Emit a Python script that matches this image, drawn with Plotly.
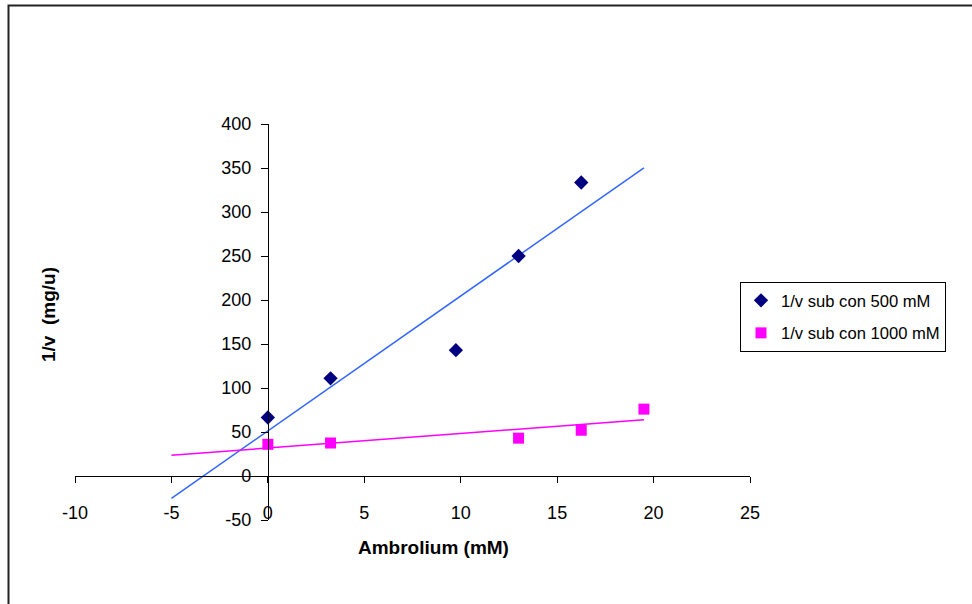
import numpy as np
import plotly.graph_objects as go

# ---- data ----
x_500 = [0, 3.25, 9.75, 13, 16.25]
y_500 = [66.5, 111, 143, 250, 333.5]
x_1000 = [0, 3.25, 13, 16.25, 19.5]
y_1000 = [36, 37.5, 43, 52, 76]
trend_x = [-5, 19.5]          # trendline extent (backward forecast to -5)
name_500 = "1/v sub con 500 mM"
name_1000 = "1/v sub con 1000 mM"
x_title = "Ambrolium (mM)"
y_title = "1/v\u00a0 (mg/u)"
x_range = [-10, 25]
y_range = [-50, 400]
x_ticks = [-10, -5, 0, 5, 10, 15, 20, 25]
x_ticktext = ["-10", "-5", "0", "5", "10", "15", "20", "25"]
y_ticks = [-50, 0, 50, 100, 150, 200, 250, 300, 350, 400]
y_ticktext = ["-50", "0", "50", "100", "150", "200", "250", "300", "350", "400"]

FONT = "Liberation Sans, Arial, sans-serif"
W, H = 972, 604
ML, MR, MT, MB = 75, 222, 124, 84
PW, PH = W - ML - MR, H - MT - MB

def px_x(p):
    return (p - ML) / PW

def px_y(p):
    return (H - MB - p) / PH

fig = go.Figure()

# trendlines (least squares fit of each series)
for xs, ys, col in [(x_500, y_500, "#3366FF"), (x_1000, y_1000, "#FF00FF")]:
    m, b = np.polyfit(xs, ys, 1)
    tx = np.array(trend_x, dtype=float)
    fig.add_trace(go.Scatter(x=tx, y=m * tx + b, mode="lines",
                             line=dict(color=col, width=1.5),
                             showlegend=False, hoverinfo="skip"))

fig.add_trace(go.Scatter(x=x_500, y=y_500, mode="markers", name=name_500,
                         legendgroup="a",
                         marker=dict(symbol="diamond", size=11, color="#000080")))
fig.add_trace(go.Scatter(x=x_1000, y=y_1000, mode="markers", name=name_1000,
                         legendgroup="b",
                         marker=dict(symbol="square", size=11, color="#FF00FF")))

x_pos = (0 - y_range[0]) / (y_range[1] - y_range[0])
y_pos = (0 - x_range[0]) / (x_range[1] - x_range[0])

fig.update_layout(
    width=W, height=H,
    margin=dict(l=ML, r=MR, t=MT, b=MB, autoexpand=False),
    paper_bgcolor="white", plot_bgcolor="white",
    font=dict(family=FONT, color="black", size=18),
    xaxis=dict(range=x_range, tickvals=x_ticks, ticktext=x_ticktext,
               showgrid=False, zeroline=False,
               showline=True, linecolor="black", linewidth=1,
               ticks="outside", ticklen=6, tickcolor="black",
               anchor="free", position=x_pos, ticklabelstandoff=14,
               tickfont=dict(size=18, family=FONT)),
    yaxis=dict(range=y_range, tickvals=y_ticks, ticktext=y_ticktext,
               showgrid=False, zeroline=False,
               showline=True, linecolor="black", linewidth=1,
               ticks="outside", ticklen=7, tickcolor="black",
               anchor="free", position=y_pos, ticklabelstandoff=6,
               tickfont=dict(size=18, family=FONT)),
    legend=dict(x=px_x(740), y=px_y(282), xanchor="left", yanchor="top",
                bordercolor="black", borderwidth=1, bgcolor="white",
                font=dict(size=16.6, family=FONT), traceorder="grouped",
                tracegroupgap=8),
    showlegend=True,
)

fig.add_annotation(text=f"<b>{x_title}</b>", x=px_x(434), y=px_y(547),
                   xref="paper", yref="paper", showarrow=False,
                   xanchor="center", yanchor="middle",
                   font=dict(size=19, family=FONT))
fig.add_annotation(text=f"<b>{y_title}</b>", x=px_x(48), y=px_y(315),
                   xref="paper", yref="paper", showarrow=False, textangle=-90,
                   xanchor="center", yanchor="middle",
                   font=dict(size=19, family=FONT))

# outer chart border
fig.add_shape(type="rect", xref="paper", yref="paper",
              x0=px_x(8.5), x1=px_x(990), y0=px_y(620), y1=px_y(5.5),
              line=dict(color="#222222", width=2), fillcolor="rgba(0,0,0,0)",
              layer="below")

fig.write_html("out.html",
               config={"displayModeBar": False},
               post_script="document.body.style.margin='0px';"
                           "document.body.style.overflow='hidden';")
